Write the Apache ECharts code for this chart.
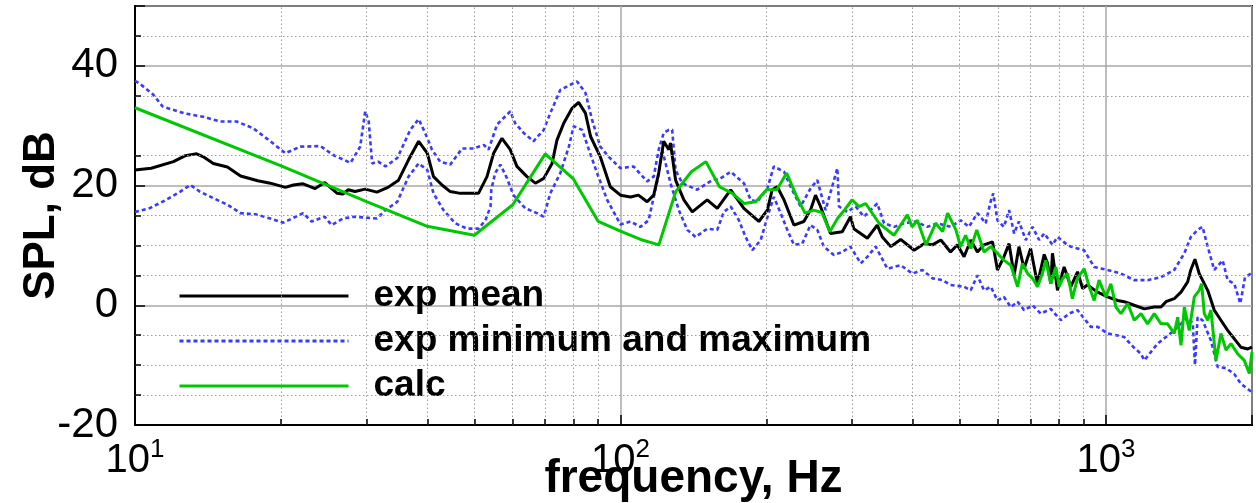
<!DOCTYPE html>
<html>
<head>
<meta charset="utf-8">
<title>SPL spectrum</title>
<script src="https://cdn.jsdelivr.net/npm/echarts@6/dist/echarts.min.js"></script>
<style>
  html, body { margin: 0; padding: 0; background: #fff; }
  #chart { width: 1256px; height: 503px; }
</style>
</head>
<body>
<div id="chart"></div>
<script>
// experimental mean, Hz / dB
const meanHz = [10, 10.8, 12, 12.7, 13.4, 13.9, 14.5, 15.5, 16.5, 17.9, 19, 20.4, 21.2, 22.2, 23.5, 24.6, 26.1, 26.8, 27.5, 28.4, 29.8, 31.5, 33.2, 34.9, 36.6, 38.4, 40, 41.2, 42.9, 44.6, 46.8, 51, 53.1, 54.8, 57, 59.3, 61.2, 64.2, 66.8, 69.5, 72.3, 74, 76.4, 79.5, 82, 84.7, 86.8, 90.9, 95.3, 100, 104.9, 108.9, 113.5, 117.1, 119.9, 122.8, 125.8, 126.8, 129.9, 135.1, 140.6, 150.9, 158.3, 168.7, 179.6, 192.8, 200.7, 205.4, 210.4, 217.3, 227.7, 238.7, 246.3, 252.3, 258.3, 270.9, 286.4, 297.8, 302.5, 322.6, 338.1, 346.4, 360.4, 377.8, 402.7, 422.1, 439.2, 457.1, 478.6, 494.4, 510.4, 526.7, 543.7, 561, 584, 598, 616.6, 631.8, 647.1, 662.2, 678.5, 699.8, 722.8, 746.5, 758.2, 770.2, 776.2, 795, 820.4, 847, 874.3, 895.5, 916.2, 961.6, 1008, 1057, 1091, 1144, 1200, 1258, 1299, 1330, 1383, 1428, 1474, 1496, 1526, 1557, 1621, 1672, 1726, 1782, 1839, 1897, 1960, 2000];
const meanDb = [22.6, 22.9, 24.0, 25.0, 25.3, 24.7, 23.7, 23.1, 21.6, 20.8, 20.4, 19.7, 20.1, 20.3, 19.5, 20.5, 18.7, 18.6, 19.3, 19.0, 19.4, 18.9, 19.7, 20.9, 24.3, 27.4, 25.4, 21.5, 20.1, 19.0, 18.7, 18.7, 21.5, 25.4, 27.9, 26.0, 23.2, 21.5, 20.4, 21.2, 23.7, 27.6, 30.4, 32.9, 33.9, 32.1, 28.2, 24.8, 19.8, 18.4, 18.1, 18.4, 17.3, 18.4, 22.1, 27.4, 26.0, 27.1, 20.9, 17.6, 15.6, 17.6, 16.2, 19.3, 16.2, 14.0, 15.9, 19.3, 19.8, 17.6, 13.4, 14.0, 15.9, 18.4, 16.5, 12.0, 12.3, 14.8, 12.8, 11.2, 13.4, 11.4, 9.8, 11.0, 9.2, 10.3, 10.1, 10.9, 8.9, 10.1, 8.1, 10.9, 8.9, 10.1, 10.6, 5.9, 8.1, 10.3, 5.0, 9.8, 6.1, 9.5, 3.6, 8.5, 7.0, 3.6, 8.7, 2.5, 6.4, 3.1, 5.6, 2.8, 3.4, 2.2, 1.4, 0.8, 0.6, 0.0, -0.6, -0.3, -0.3, 0.6, 1.1, 2.2, 3.9, 5.9, 7.7, 5.3, 2.5, -0.8, -2.5, -4.2, -5.6, -7.0, -7.3, -7.0];

// experimental maximum
const maxHz = [10, 10.2, 10.9, 11.4, 12.6, 13.8, 15.0, 16.2, 17.5, 19.0, 20.4, 21.9, 24.1, 25.6, 27.8, 29.1, 29.8, 30.3, 30.8, 31.7, 32.8, 34.7, 36.9, 38.4, 39.6, 40.9, 42.5, 44.6, 47.2, 49.8, 52.3, 53.5, 55.7, 59.3, 60.7, 63.2, 66.2, 69.5, 71.7, 75.2, 81.4, 84.7, 87.4, 90.9, 94.6, 100, 106.4, 113.5, 117.1, 119.9, 122.8, 125.8, 127.8, 129.9, 134.0, 143.9, 154.5, 160.7, 168.7, 179.6, 185.4, 191.4, 200.7, 207.0, 217.3, 224.2, 235.0, 246.3, 254.4, 264.6, 279.8, 282.0, 293.2, 305.1, 317.4, 338.1, 349.2, 366.1, 383.9, 405.7, 428.5, 449.8, 478.6, 502.3, 522.4, 543.7, 565.6, 577.4, 586.1, 598, 616.6, 631.8, 647.1, 662.2, 683.9, 706.3, 728.6, 746.5, 776.2, 795, 827, 847, 901.6, 946.2, 1008, 1074, 1144, 1219, 1299, 1383, 1451, 1496, 1545, 1582, 1621, 1672, 1740, 1782, 1839, 1892, 1935, 2000];
const maxDb = [37.5, 37.1, 35.2, 33.2, 32.1, 31.5, 30.7, 30.7, 29.6, 27.4, 25.4, 26.5, 26.6, 25.1, 23.8, 26.5, 32.4, 30.7, 23.7, 24.0, 23.2, 24.6, 29.3, 31.1, 28.8, 26.0, 24.0, 23.5, 26.2, 26.2, 26.8, 26.0, 30.2, 32.4, 30.4, 28.8, 27.4, 29.3, 32.1, 36.0, 37.4, 35.5, 31.0, 26.5, 24.8, 22.9, 23.2, 20.7, 21.5, 26.0, 28.8, 29.3, 29.3, 22.6, 20.4, 19.3, 20.9, 21.2, 22.3, 20.4, 17.6, 17.3, 19.5, 23.2, 22.3, 19.8, 16.5, 19.5, 20.9, 15.9, 22.9, 16.5, 15.6, 16.5, 14.8, 17.0, 13.7, 13.1, 13.7, 14.0, 13.1, 13.7, 13.1, 14.2, 13.1, 15.4, 13.7, 17.0, 18.7, 14.2, 13.1, 15.9, 12.0, 14.0, 10.9, 13.1, 10.9, 12.0, 10.1, 11.4, 10.3, 9.8, 9.2, 6.4, 5.9, 5.3, 4.2, 4.2, 4.7, 5.9, 8.7, 11.4, 12.6, 13.1, 9.8, 5.9, 7.5, 4.2, 3.6, 0.3, 4.7, 5.4];

// experimental minimum
const minHz = [10, 10.7, 11.4, 12.4, 13.0, 13.6, 14.5, 15.5, 16.5, 17.7, 19.0, 20.2, 22.2, 23.1, 24.6, 25.4, 26.8, 28.3, 31.5, 32.8, 34.7, 36.6, 38.4, 40.0, 41.2, 43.2, 45.7, 48.3, 51.0, 52.7, 54.0, 54.2, 55.2, 56.6, 58.4, 60.2, 63.7, 67.3, 69.5, 71.7, 75.2, 78.3, 80.1, 83.4, 86.1, 89.5, 93.9, 100, 104.9, 109.9, 114.3, 117.1, 119.9, 121.9, 126.8, 131.9, 137.3, 142.9, 150.9, 158.3, 163.3, 168.7, 175.4, 181.1, 186.9, 194.5, 202.3, 207.0, 213.8, 220.7, 227.7, 236.9, 246.3, 254.4, 262.4, 275.3, 286.4, 297.8, 305.1, 312.6, 322.6, 335.6, 354.8, 377.8, 399.4, 418.8, 439.2, 460.6, 478.6, 510.4, 526.7, 543.7, 561, 579.4, 598, 616.6, 636.8, 657.7, 678.5, 706.3, 734.5, 770.2, 807.2, 839.5, 874, 931, 962, 1008, 1091, 1140, 1181, 1200, 1278, 1383, 1474, 1510, 1526, 1545, 1582, 1646, 1699, 1768, 1839, 1897, 1975, 2000];
const minDb = [15.6, 16.2, 17.3, 19.0, 20.1, 19.0, 17.9, 16.8, 15.4, 15.2, 14.5, 13.8, 15.4, 14.0, 14.8, 13.4, 14.5, 14.8, 14.5, 15.9, 17.3, 21.5, 23.7, 22.6, 18.7, 15.9, 13.7, 12.8, 12.8, 14.2, 16.5, 19.3, 22.1, 23.5, 21.2, 18.4, 16.2, 15.4, 14.8, 18.7, 22.1, 26.5, 29.9, 29.3, 26.0, 22.1, 17.6, 13.5, 14.0, 13.1, 14.2, 18.1, 21.8, 26.0, 20.4, 15.9, 12.6, 11.4, 12.8, 12.6, 15.6, 16.5, 14.2, 11.4, 9.2, 10.9, 15.6, 18.1, 15.4, 12.6, 10.1, 10.3, 13.4, 12.6, 9.8, 8.4, 8.9, 9.8, 8.4, 7.0, 8.1, 9.8, 6.1, 6.7, 5.3, 5.9, 4.5, 4.2, 3.4, 3.1, 2.5, 5.0, 2.5, 3.1, 0.8, 1.4, -0.3, 0.6, -0.8, 0, -1.4, -0.6, -2.5, -1.4, -0.8, -3.6, -3.6, -4.7, -5.3, -7.0, -8.1, -9.2, -6.4, -4.2, -2.0, -3.0, -10.0, -2.0, -2.5, -5.9, -10.3, -10.5, -11.5, -13.1, -14.2, -14.5];

// calculation
const calcHz = [10, 20, 30, 40, 50, 60, 70, 80, 90, 100, 110, 120, 130, 140, 150, 160, 170, 180, 190, 200, 210, 220, 230, 240, 250, 260, 270, 280, 290, 300, 310, 320, 341, 366, 390, 399, 409, 426, 446, 461, 472, 491, 502, 514, 527, 542, 561, 579, 598, 617, 637, 658, 673, 690, 706, 723, 740, 752, 770, 789, 801, 815, 834, 853, 874, 902, 924, 946, 968, 1000, 1024, 1049, 1074, 1109, 1144, 1181, 1219, 1258, 1299, 1340, 1383, 1406, 1428, 1451, 1485, 1521, 1557, 1575, 1595, 1621, 1646, 1686, 1726, 1768, 1810, 1868, 1928, 1975, 2000];
const calcDb = [33.0, 23.3, 17.3, 13.2, 11.7, 16.8, 25.3, 21.1, 14.0, 12.4, 11.0, 10.1, 19.0, 22.3, 24.0, 19.8, 18.7, 17.0, 17.3, 19.3, 19.3, 22.1, 18.4, 15.4, 15.9, 15.5, 12.3, 14.5, 16.0, 17.6, 16.5, 17.0, 13.7, 11.7, 15.1, 13.1, 14.2, 10.1, 13.7, 12.3, 15.4, 12.6, 9.8, 11.7, 9.5, 12.6, 8.9, 9.8, 8.7, 7.5, 6.7, 3.1, 7.0, 5.3, 4.5, 3.1, 5.3, 7.5, 3.6, 6.4, 3.1, 4.5, 5.3, 1.1, 4.5, 6.1, 3.1, 0.8, 4.2, 1.4, 3.6, -0.3, -1.4, 0.3, -2.5, -1.4, -3.1, -1.4, -3.1, -3.1, -4.7, -2.0, -6.7, -0.3, -4.2, 1.4, 2.5, 3.6, -1.4, -2.5, -0.8, -9.2, -4.7, -7.5, -6.4, -8.1, -9.2, -11.4, -7.8];

// minor grid lines / minor ticks
const minorX = [20, 30, 40, 50, 60, 70, 80, 90, 200, 300, 400, 500, 600, 700, 800, 900];
const minorY = [45, 35, 25, 15, 10, 5, -5, -10, -15];

const FONT = '"Liberation Sans", Arial, sans-serif';
const BLUE = '#3a3aff';
const GREEN = '#00c800';
const Y_MIN = -20;
const X_MIN = 10;

function pairs(xs, ys) {
  return xs.map((x, i) => [x, ys[i]]);
}

// short minor ticks drawn inward from the bottom and left axes
const minorTicks = minorX.map(v => [{ coord: [v, Y_MIN] }, { coord: [v, Y_MIN + 1] }])
  .concat(minorY.map(v => [{ coord: [X_MIN, v] }, { coord: [X_MIN * 1.029, v] }]));

const chart = echarts.init(document.getElementById('chart'));

const option = {
  animation: false,
  backgroundColor: '#fff',
  grid: {
    left: 135, right: 4, top: 6, bottom: 78,
    outerBoundsMode: 'none',
    containLabel: false,
    show: true, borderColor: '#000', borderWidth: 2
  },
  legend: {
    data: ['exp mean', 'exp minimum and maximum', 'calc'],
    orient: 'vertical',
    left: 173,
    top: 271,
    itemWidth: 169,
    itemHeight: 14,
    itemGap: 5,
    selectedMode: false,
    itemStyle: { opacity: 0 },
    lineStyle: { width: 3 },
    textStyle: {
      fontFamily: FONT, fontSize: 37, fontWeight: 'bold', color: '#000',
      lineHeight: 40, padding: [0, 0, 0, 20]
    }
  },
  xAxis: {
    type: 'log',
    logBase: 10,
    min: X_MIN,
    max: 2000,
    name: 'frequency, Hz',
    nameLocation: 'middle',
    nameGap: 31,
    nameMoveOverlap: false,
    nameTextStyle: { fontFamily: FONT, fontSize: 46, fontWeight: 'bold', color: '#000' },
    axisLine: { onZero: false, lineStyle: { color: '#000', width: 2 } },
    axisTick: { inside: true, length: 10, lineStyle: { color: '#000', width: 1.5 } },
    splitLine: { show: true, lineStyle: { color: '#a8a8a8', width: 1.5 } },
    axisLabel: {
      margin: 12,
      formatter: function (v) {
        const e = Math.round(Math.log10(v));
        if (Math.abs(Math.pow(10, e) - v) > 1e-6 * v) return '';
        return '{b|10}{s|' + e + '}';
      },
      rich: {
        b: { fontFamily: FONT, fontSize: 40, color: '#000', lineHeight: 44, verticalAlign: 'bottom' },
        s: { fontFamily: FONT, fontSize: 26, color: '#000', lineHeight: 44, verticalAlign: 'top' }
      }
    }
  },
  yAxis: {
    type: 'value',
    min: Y_MIN,
    max: 50,
    interval: 20,
    name: 'SPL, dB',
    nameLocation: 'middle',
    nameGap: 71,
    nameMoveOverlap: false,
    nameTextStyle: { fontFamily: FONT, fontSize: 44, fontWeight: 'bold', color: '#000' },
    axisLine: { show: true, onZero: false, lineStyle: { color: '#000', width: 2 } },
    axisTick: { show: true, inside: true, length: 10, lineStyle: { color: '#000', width: 1.5 } },
    splitLine: { show: true, lineStyle: { color: '#a8a8a8', width: 1.5 } },
    axisLabel: {
      margin: 17,
      fontFamily: FONT, fontSize: 42, color: '#000',
      formatter: function (v) { return v % 20 === 0 ? String(v) : ''; }
    }
  },
  series: [
    {
      name: 'grid',
      type: 'line',
      data: [],
      z: 1,
      silent: true,
      markLine: {
        silent: true,
        symbol: 'none',
        label: { show: false },
        lineStyle: { color: '#9a9a9a', width: 1, type: [1.5, 2.5] },
        data: minorX.map(v => ({ xAxis: v })).concat(minorY.map(v => ({ yAxis: v })))
      }
    },
    {
      name: 'ticks',
      type: 'line',
      data: [],
      z: 2,
      silent: true,
      markLine: {
        silent: true,
        symbol: 'none',
        label: { show: false },
        lineStyle: { color: '#000', width: 1.5, type: 'solid' },
        data: minorTicks
      }
    },
    {
      name: 'exp minimum and maximum',
      type: 'line',
      data: pairs(maxHz, maxDb),
      showSymbol: false, symbol: 'none', z: 3,
      lineStyle: { color: BLUE, width: 2.6, type: [4, 3] },
      itemStyle: { color: BLUE }
    },
    {
      name: 'exp minimum and maximum',
      type: 'line',
      data: pairs(minHz, minDb),
      showSymbol: false, symbol: 'none', z: 3,
      lineStyle: { color: BLUE, width: 2.6, type: [4, 3] },
      itemStyle: { color: BLUE }
    },
    {
      name: 'exp mean',
      type: 'line',
      data: pairs(meanHz, meanDb),
      showSymbol: false, symbol: 'none', z: 4,
      lineStyle: { color: '#000', width: 3 },
      itemStyle: { color: '#000' }
    },
    {
      name: 'calc',
      type: 'line',
      data: pairs(calcHz, calcDb),
      showSymbol: false, symbol: 'none', z: 5,
      lineStyle: { color: GREEN, width: 3 },
      itemStyle: { color: GREEN }
    }
  ]
};

chart.setOption(option);
</script>
</body>
</html>
